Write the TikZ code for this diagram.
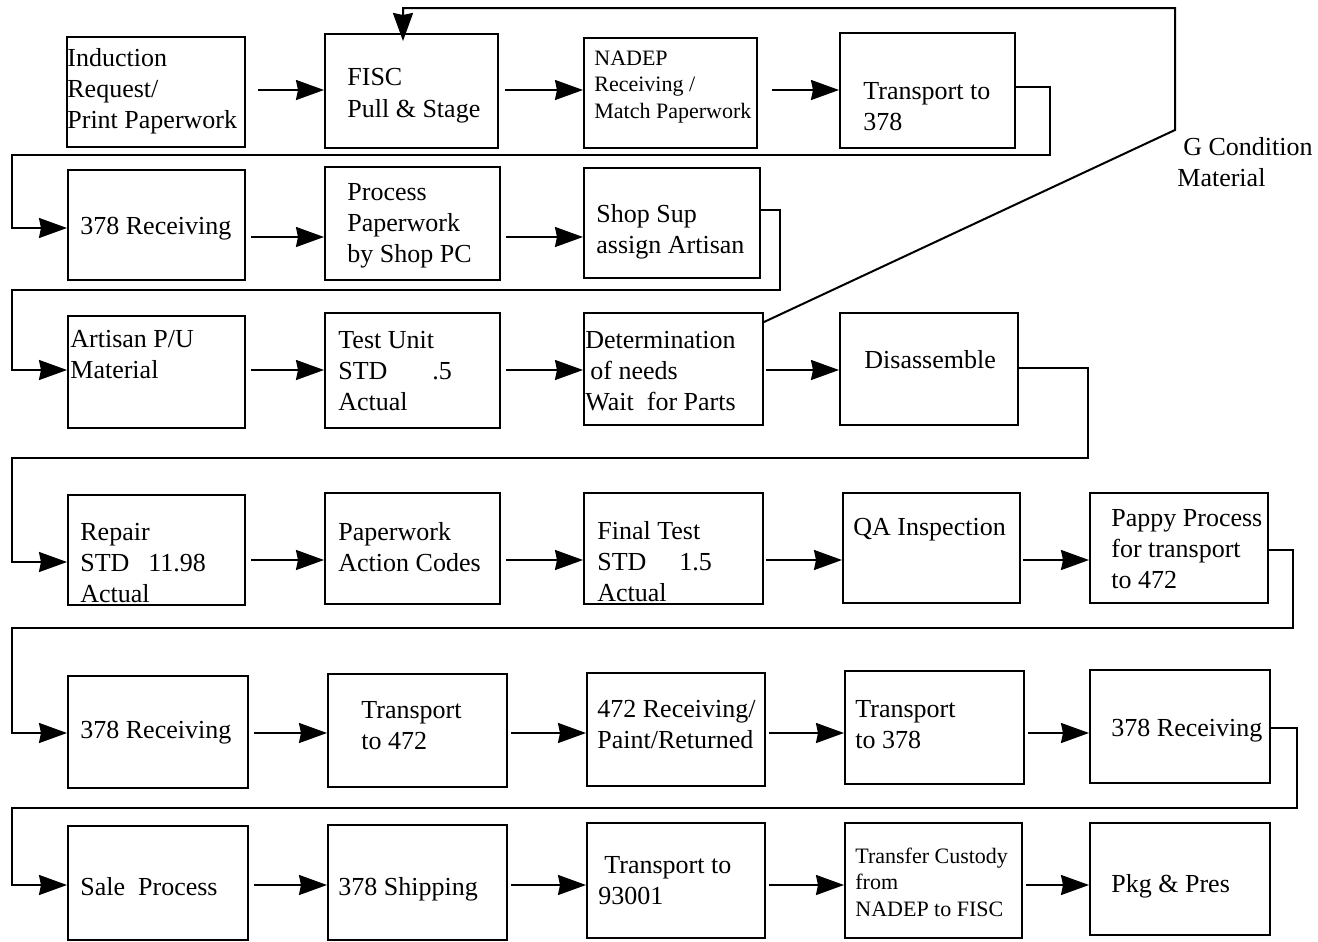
\documentclass[tikz,border=0pt]{standalone}
\usepackage{fontspec}
\setmainfont{Liberation Serif}
\usetikzlibrary{arrows.meta,fit}
\begin{document}
\begin{tikzpicture}[x=0.5pt,y=-0.5pt,
  box/.style={draw,line width=1pt,inner sep=0pt,rectangle},
  txt/.style={anchor=west,align=left,inner sep=0pt,font=\fontsize{13}{15.5}\selectfont},
  smalltxt/.style={anchor=west,align=left,inner sep=0pt,font=\fontsize{11}{13.25}\selectfont},
  arr/.style={draw,line width=1pt,-{Stealth[length=14pt,width=10pt,inset=1pt]}},
  conn/.style={draw,line width=1pt}]
\useasboundingbox (0,0) rectangle (1318,942);
% boxes
\node[box,fit={(67,37) (245,147)}] (b1) {};
\node[box,fit={(325,34) (498,148)}] (b2) {};
\node[box,fit={(584,38) (757,148)}] (b3) {};
\node[box,fit={(840,33) (1015,148)}] (b4) {};
\node[box,fit={(68,170) (245,280)}] (b5) {};
\node[box,fit={(325,167) (500,280)}] (b6) {};
\node[box,fit={(584,168) (760,278)}] (b7) {};
\node[box,fit={(68,316) (245,428)}] (b8) {};
\node[box,fit={(325,313) (500,428)}] (b9) {};
\node[box,fit={(584,313) (763,425)}] (b10) {};
\node[box,fit={(840,313) (1018,425)}] (b11) {};
\node[box,fit={(68,495) (245,605)}] (b12) {};
\node[box,fit={(325,493) (500,604)}] (b13) {};
\node[box,fit={(584,493) (763,604)}] (b14) {};
\node[box,fit={(843,493) (1020,603)}] (b15) {};
\node[box,fit={(1090,493) (1268,603)}] (b16) {};
\node[box,fit={(68,676) (248,788)}] (b17) {};
\node[box,fit={(328,674) (507,787)}] (b18) {};
\node[box,fit={(587,673) (765,786)}] (b19) {};
\node[box,fit={(845,671) (1024,784)}] (b20) {};
\node[box,fit={(1090,670) (1270,783)}] (b21) {};
\node[box,fit={(68,826) (248,940)}] (b22) {};
\node[box,fit={(328,825) (507,940)}] (b23) {};
\node[box,fit={(587,823) (765,938)}] (b24) {};
\node[box,fit={(845,823) (1022,938)}] (b25) {};
\node[box,fit={(1090,823) (1270,935)}] (b26) {};
% texts
\node[txt] (t1) at (67,91) {Induction\\Request/\\Print Paperwork};
\node[txt,font=\fontsize{13}{16}\selectfont] (t2) at (347,96) {FISC\\Pull \& Stage};
\node[smalltxt] (t3) at (594,87) {NADEP\\Receiving /\\Match Paperwork};
\node[txt] (t4) at (863,107) {Transport to\\378};
\node[txt] (t5) at (80,229) {378 Receiving};
\node[txt] (t6) at (347,226) {Process\\Paperwork\\by Shop PC};
\node[txt] (t7) at (596,232) {Shop Sup\\assign Artisan};
\node[txt] (t8) at (70,355) {Artisan P/U\\Material};
\node[txt] (t9) at (338,371) {Test Unit\\\makebox[47pt][l]{STD}.5\\Actual};
\node[txt] (t10) at (585,371) {Determination\\\hspace{2.5pt}of needs\\Wait\ \ for Parts};
\node[txt] (t11) at (864,360) {Disassemble};
\node[txt] (t12) at (80,563) {Repair\\\makebox[34pt][l]{STD}11.98\\Actual};
\node[txt] (t13) at (338,547) {Paperwork\\Action Codes};
\node[txt] (t14) at (597,562) {Final Test\\\makebox[41pt][l]{STD}1.5\\Actual};
\node[txt] (t15) at (853,530) {QA Inspection};
\node[txt] (t16) at (1111,549) {Pappy Process\\for transport\\to 472};
\node[txt] (t17) at (80,733) {378 Receiving};
\node[txt] (t18) at (361,726) {Transport\\to 472};
\node[txt] (t19) at (597,725) {472 Receiving/\\Paint/Returned};
\node[txt] (t20) at (855,725) {Transport\\to 378};
\node[txt] (t21) at (1111,731) {378 Receiving};
\node[txt] (t22) at (80,887) {Sale\ \ Process};
\node[txt] (t23) at (338,889) {378 Shipping};
\node[txt] (t24) at (598,881) {\hspace{3pt}Transport to\\93001};
\node[smalltxt] (t25) at (855,882) {Transfer Custody\\from\\NADEP to FISC};
\node[txt] (t26) at (1111,886) {Pkg \& Pres};
\node[txt] (tg) at (1177,162) {\hspace{3pt}G Condition\\Material};
% row levels
\coordinate (r1) at (0,90);
\coordinate (r2) at (0,237);
\coordinate (r3) at (0,370);
\coordinate (r4) at (0,560);
\coordinate (r5) at (0,733);
\coordinate (r6) at (0,885);
% row arrows
\draw[arr,shorten <=6pt] (b1.east |- r1) -- (b2.west |- r1);
\draw[arr,shorten <=3pt] (b2.east |- r1) -- (b3.west |- r1);
\draw[arr,shorten <=7pt] (b3.east |- r1) -- (b4.west |- r1);
\draw[arr,shorten <=2.5pt] (b5.east |- r2) -- (b6.west |- r2);
\draw[arr,shorten <=2.5pt] (b6.east |- r2) -- (b7.west |- r2);
\draw[arr,shorten <=2.5pt] (b8.east |- r3) -- (b9.west |- r3);
\draw[arr,shorten <=2.5pt] (b9.east |- r3) -- (b10.west |- r3);
\draw[arr,shorten <=1pt] (b10.east |- r3) -- (b11.west |- r3);
\draw[arr,shorten <=2.5pt] (b12.east |- r4) -- (b13.west |- r4);
\draw[arr,shorten <=2.5pt] (b13.east |- r4) -- (b14.west |- r4);
\draw[arr,shorten <=1pt] (b14.east |- r4) -- (b15.west |- r4);
\draw[arr,shorten <=1pt] (b15.east |- r4) -- (b16.west |- r4);
\draw[arr,shorten <=2.5pt] (b17.east |- r5) -- (b18.west |- r5);
\draw[arr,shorten <=1.5pt] (b18.east |- r5) -- (b19.west |- r5);
\draw[arr,shorten <=1.5pt] (b19.east |- r5) -- (b20.west |- r5);
\draw[arr,shorten <=1.5pt] (b20.east |- r5) -- (b21.west |- r5);
\draw[arr,shorten <=2.5pt] (b22.east |- r6) -- (b23.west |- r6);
\draw[arr,shorten <=1.5pt] (b23.east |- r6) -- (b24.west |- r6);
\draw[arr,shorten <=1.5pt] (b24.east |- r6) -- (b25.west |- r6);
\draw[arr,shorten <=1.5pt] (b25.east |- r6) -- (b26.west |- r6);
% return connectors
\coordinate (c1a) at (1050,87); \coordinate (c1b) at (1050,155);
\coordinate (c1c) at (12,155);  \coordinate (c1d) at (12,228);
\draw[arr] (b4.east |- c1a) -- (c1a) -- (c1b) -- (c1c) -- (c1d) -- (b5.west |- c1d);
\coordinate (c2a) at (780,210); \coordinate (c2b) at (780,290);
\coordinate (c2c) at (12,290);  \coordinate (c2d) at (12,370);
\draw[arr] (b7.east |- c2a) -- (c2a) -- (c2b) -- (c2c) -- (c2d) -- (b8.west |- c2d);
\coordinate (c3a) at (1088,368); \coordinate (c3b) at (1088,458);
\coordinate (c3c) at (12,458);   \coordinate (c3d) at (12,562);
\draw[arr] (b11.east |- c3a) -- (c3a) -- (c3b) -- (c3c) -- (c3d) -- (b12.west |- c3d);
\coordinate (c4a) at (1293,550); \coordinate (c4b) at (1293,628);
\coordinate (c4c) at (12,628);   \coordinate (c4d) at (12,733);
\draw[arr] (b16.east |- c4a) -- (c4a) -- (c4b) -- (c4c) -- (c4d) -- (b17.west |- c4d);
\coordinate (c5a) at (1297,728); \coordinate (c5b) at (1297,808);
\coordinate (c5c) at (12,808);   \coordinate (c5d) at (12,885);
\draw[arr] (b21.east |- c5a) -- (c5a) -- (c5b) -- (c5c) -- (c5d) -- (b22.west |- c5d);
% G condition loop
\coordinate (g1) at (1175,130);
\coordinate (g2) at (1175,8);
\coordinate (g3) at (403,8);
\draw[arr,shorten >=-4pt] ([yshift=-5pt]b10.north east) -- (g1) -- (g2) -- (g3) -- (b2.north -| g3);
\end{tikzpicture}
\end{document}
